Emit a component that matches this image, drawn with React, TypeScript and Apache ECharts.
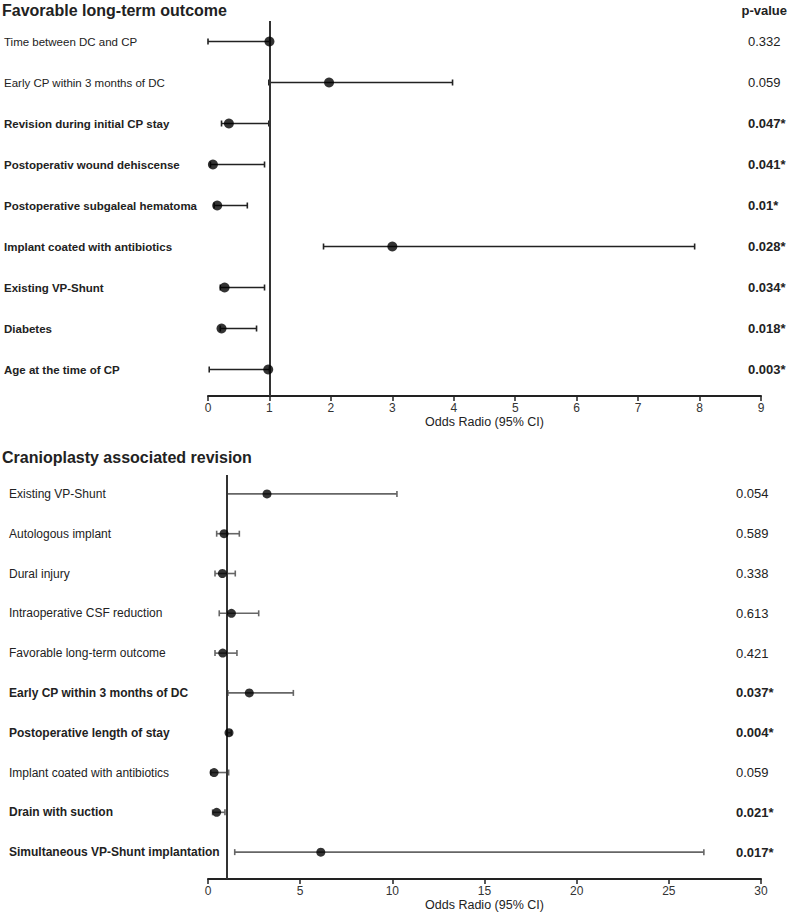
import React, { useEffect, useRef } from "react";
import * as echarts from "echarts";

// Panel A: favorable long-term outcome
const topLabels = [
  "Time between DC and CP",
  "Early CP within 3 months of DC",
  "Revision during initial CP stay",
  "Postoperativ wound dehiscense",
  "Postoperative subgaleal hematoma",
  "Implant coated with antibiotics",
  "Existing VP-Shunt",
  "Diabetes",
  "Age at the time of CP",
];
const topOR = [1.0, 1.97, 0.34, 0.08, 0.15, 3.0, 0.27, 0.22, 0.98];
const topLower = [0.0, 0.99, 0.22, 0.04, 0.1, 1.88, 0.2, 0.2, 0.02];
const topUpper = [1.01, 3.98, 0.99, 0.92, 0.64, 7.92, 0.92, 0.79, 1.0];
const topP = ["0.332", "0.059", "0.047*", "0.041*", "0.01*", "0.028*", "0.034*", "0.018*", "0.003*"];
const topTicks = [0, 1, 2, 3, 4, 5, 6, 7, 8, 9];

// Panel B: cranioplasty associated revision
const botLabels = [
  "Existing VP-Shunt",
  "Autologous implant",
  "Dural injury",
  "Intraoperative CSF reduction",
  "Favorable long-term outcome",
  "Early CP within 3 months of DC",
  "Postoperative length of stay",
  "Implant coated with antibiotics",
  "Drain with suction",
  "Simultaneous VP-Shunt implantation",
];
const botOR = [3.2, 0.87, 0.78, 1.27, 0.8, 2.24, 1.14, 0.33, 0.47, 6.12];
const botLower = [1.03, 0.47, 0.38, 0.61, 0.38, 1.08, 1.02, 0.15, 0.25, 1.45];
const botUpper = [10.25, 1.7, 1.48, 2.75, 1.57, 4.63, 1.26, 1.12, 0.92, 26.9];
const botP = ["0.054", "0.589", "0.338", "0.613", "0.421", "0.037*", "0.004*", "0.059", "0.021*", "0.017*"];
const botTicks = [0, 5, 10, 15, 20, 25, 30];

const FONT = '"Liberation Sans", Arial, sans-serif';

function makeRenderer(
  labels: string[],
  pvals: string[],
  labelX: number,
  pX: number,
  fontSize: number,
  color: string
) {
  return (params: any, api: any) => {
    const lo = api.value(0);
    const hi = api.value(1);
    const row = api.value(2);
    const a = api.coord([lo, row]);
    const b = api.coord([hi, row]);
    const cap = 3;
    const sig = pvals[params.dataIndex].indexOf("*") >= 0;
    const lineStyle = { stroke: color, lineWidth: 1.6 };
    return {
      type: "group",
      children: [
        { type: "line", shape: { x1: a[0], y1: a[1], x2: b[0], y2: b[1] }, style: lineStyle },
        { type: "line", shape: { x1: a[0], y1: a[1] - cap, x2: a[0], y2: a[1] + cap }, style: lineStyle },
        { type: "line", shape: { x1: b[0], y1: b[1] - cap, x2: b[0], y2: b[1] + cap }, style: lineStyle },
        {
          type: "text",
          x: labelX,
          y: a[1],
          style: {
            text: labels[params.dataIndex],
            fill: "#222",
            fontSize,
            fontWeight: sig ? "bold" : "normal",
            fontFamily: FONT,
            verticalAlign: "middle",
            align: "left",
          },
        },
        {
          type: "text",
          x: pX,
          y: a[1],
          style: {
            text: pvals[params.dataIndex],
            fill: "#222",
            fontSize: 13,
            fontWeight: sig ? "bold" : "normal",
            fontFamily: FONT,
            verticalAlign: "middle",
            align: "left",
          },
        },
      ],
    };
  };
}

export default function App() {
  const ref = useRef<HTMLDivElement>(null);

  useEffect(() => {
    document.body.style.margin = "0";
    if (!ref.current) return;
    const chart = echarts.init(ref.current, null, { renderer: "svg" });

    const xAxisCommon = (idx: number, max: number, interval: number, ticks: number[]) => ({
      type: "value",
      gridIndex: idx,
      min: 0,
      max,
      interval,
      name: "Odds Radio (95% CI)",
      nameLocation: "middle",
      nameGap: 19,
      nameTextStyle: { color: "#222", fontSize: 12.5, fontFamily: FONT },
      axisLine: { show: true, onZero: false, lineStyle: { color: "#222", width: 2 } },
      axisTick: { show: true, length: 5, lineStyle: { color: "#222", width: 1.5 } },
      axisLabel: {
        color: "#333",
        fontSize: 12,
        fontFamily: FONT,
        margin: 6,
        formatter: (v: number) => (ticks.indexOf(v) >= 0 ? String(v) : ""),
      },
      splitLine: { show: false },
    });

    const yAxisCommon = (idx: number, min: number, max: number) => ({
      type: "value",
      gridIndex: idx,
      inverse: true,
      min,
      max,
      show: false,
      splitLine: { show: false },
    });

    const refLine = {
      silent: true,
      symbol: "none",
      label: { show: false },
      lineStyle: { color: "#333", width: 2, type: "solid" },
      data: [{ xAxis: 1 }],
    };

    chart.setOption({
      animation: false,
      textStyle: { fontFamily: FONT },
      title: [
        {
          text: "Favorable long-term outcome",
          left: 2,
          top: 2,
          padding: 0,
          textStyle: { fontSize: 16, fontWeight: "bold", color: "#222", fontFamily: FONT },
        },
        {
          text: "p-value",
          right: 2,
          top: 4,
          padding: 0,
          textStyle: { fontSize: 13, fontWeight: "bold", color: "#222", fontFamily: FONT },
        },
        {
          text: "Cranioplasty associated revision",
          left: 2,
          top: 449,
          padding: 0,
          textStyle: { fontSize: 16, fontWeight: "bold", color: "#222", fontFamily: FONT },
        },
      ],
      grid: [
        { left: 208, right: 28, top: 21, height: 375 },
        { left: 208, right: 28, top: 475, height: 406 },
      ],
      xAxis: [xAxisCommon(0, 9, 1, topTicks), xAxisCommon(1, 30, 5, botTicks)],
      yAxis: [yAxisCommon(0, -0.5, 8.646), yAxisCommon(1, -0.475, 9.675)],
      series: [
        {
          type: "custom",
          xAxisIndex: 0,
          yAxisIndex: 0,
          renderItem: makeRenderer(topLabels, topP, 4, 748, 11.5, "#222"),
          data: topLabels.map((_, i) => [topLower[i], topUpper[i], i]),
          encode: { x: [0, 1], y: 2 },
          markLine: refLine,
          z: 2,
        },
        {
          type: "scatter",
          xAxisIndex: 0,
          yAxisIndex: 0,
          symbol: "circle",
          symbolSize: 10,
          itemStyle: { color: "#000" },
          data: topOR.map((v, i) => [v, i]),
          z: 5,
        },
        {
          type: "custom",
          xAxisIndex: 1,
          yAxisIndex: 1,
          renderItem: makeRenderer(botLabels, botP, 9, 736, 12, "#666"),
          data: botLabels.map((_, i) => [botLower[i], botUpper[i], i]),
          encode: { x: [0, 1], y: 2 },
          markLine: refLine,
          z: 2,
        },
        {
          type: "scatter",
          xAxisIndex: 1,
          yAxisIndex: 1,
          symbol: "circle",
          symbolSize: 9,
          itemStyle: { color: "#000" },
          data: botOR.map((v, i) => [v, i]),
          z: 5,
        },
      ],
    });

    return () => chart.dispose();
  }, []);

  return <div ref={ref} style={{ width: 789, height: 912 }} />;
}
